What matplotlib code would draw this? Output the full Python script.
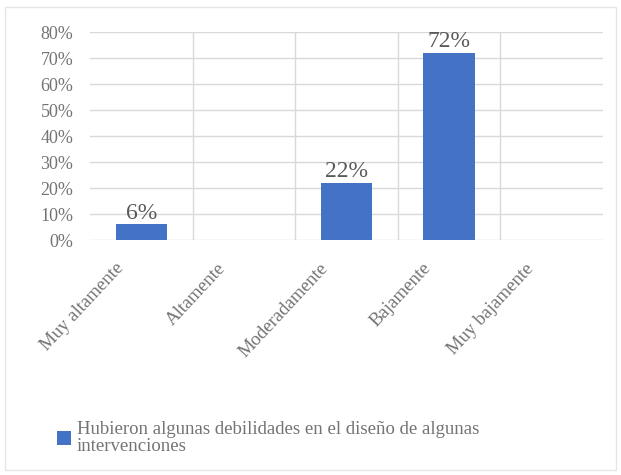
import matplotlib
matplotlib.use("AGG")
import matplotlib.pyplot as plt
from matplotlib.transforms import ScaledTranslation
import numpy as np

# data
categories = ["Muy altamente", "Altamente", "Moderadamente", "Bajamente", "Muy bajamente"]
values = [6, 0, 22, 72, 0]
series_name = "Hubieron algunas debilidades en el diseño de algunas\nintervenciones"

bar_color = "#4472C4"
text_color = "#737373"
grid_color = "#d9d9d9"

plt.rcParams['font.family'] = ['Liberation Serif', 'DejaVu Serif']

fig = plt.figure(figsize=(6.21, 4.75), dpi=100)
ax = fig.add_axes([0.145, 0.4947, 0.826, 0.4379])

x = np.arange(len(categories))
bars = ax.bar(x, values, width=0.5, color=bar_color, zorder=3, label=series_name)

for xi, v in zip(x, values):
    if v > 0:
        ax.text(xi, v + 0.2, f"{v}%", ha='center', va='bottom',
                fontsize=17, color="#595959", zorder=4)

ax.set_xlim(-0.5, len(categories) - 0.5)
ax.set_ylim(0, 80)
ax.set_yticks(np.arange(0, 81, 10))
ax.set_yticklabels([f"{t}%" for t in range(0, 81, 10)], fontsize=13, color=text_color)
ax.set_xticks(x)
ax.set_xticklabels([])
ax.set_xticks(x[:-1] + 0.5, minor=True)

# category labels, drawn as text so they can sit a little left of the ticks
shift = ScaledTranslation(-0.27, -0.2, fig.dpi_scale_trans)
for xi, cat in zip(x, categories):
    ax.text(xi, 0, cat, transform=ax.get_xaxis_transform() + shift,
            rotation=47, ha='right', va='top', rotation_mode='anchor',
            fontsize=13.5, color=text_color, clip_on=False)

ax.grid(axis='y', color=grid_color, linewidth=1, zorder=0)
ax.grid(axis='x', which='minor', color=grid_color, linewidth=1, zorder=0)
ax.tick_params(axis='both', which='both', length=0)
ax.tick_params(axis='y', pad=12)
for s in ax.spines.values():
    s.set_visible(False)

leg = fig.legend(handles=[bars], labels=[series_name], loc='upper left',
                 bbox_to_anchor=(0.065, 0.15), frameon=False, fontsize=13.5,
                 handlelength=0.75, handleheight=0.75, handletextpad=0.3)
for t in leg.get_texts():
    t.set_color(text_color)
    t.set_linespacing(1.05)

# light frame round the chart
fig.patches.append(plt.Rectangle((0.008, 0.01), 0.984, 0.975, transform=fig.transFigure,
                                 fill=False, edgecolor="#e6e6e6", linewidth=1))

fig.savefig("out.png", dpi=100)
